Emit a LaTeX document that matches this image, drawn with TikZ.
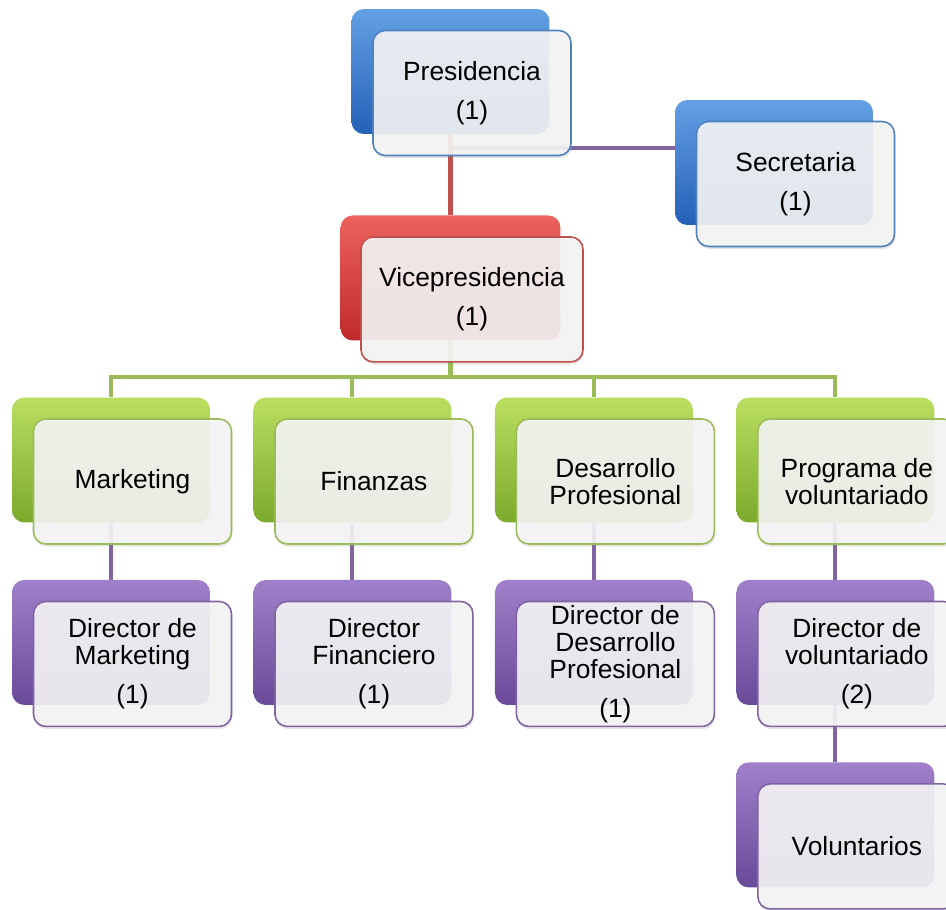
\documentclass[tikz,border=0pt]{standalone}
\usepackage{fontspec}
\setmainfont{Liberation Sans}
\usetikzlibrary{shadows}
\definecolor{bluehi}{RGB}{100,160,228}
\definecolor{bluelo}{RGB}{36,96,182}
\definecolor{blueline}{RGB}{79,129,189}
\definecolor{redhi}{RGB}{236,98,94}
\definecolor{redlo}{RGB}{192,42,42}
\definecolor{redline}{RGB}{192,80,77}
\definecolor{greenhi}{RGB}{186,222,96}
\definecolor{greenlo}{RGB}{124,170,44}
\definecolor{greenline}{RGB}{155,187,89}
\definecolor{purplehi}{RGB}{160,128,202}
\definecolor{purplelo}{RGB}{104,74,152}
\definecolor{purpleline}{RGB}{128,100,162}
\tikzstyle{box} = [shape=rectangle,rounded corners=7pt,minimum width=3.96cm,minimum height=2.5cm,inner sep=0pt]
\tikzstyle{back} = [box,draw=none]
\tikzstyle{front} = [box,draw,line width=.9pt,fill=white!96!black,fill opacity=.9,text opacity=1,align=center,font=\fontsize{15}{15.3}\selectfont,drop shadow={opacity=.2,shadow xshift=.5pt,shadow yshift=-1.5pt},below right of=#1,node distance=.608cm]
\tikzstyle{blueback} = [back,top color=bluehi,bottom color=bluelo]
\tikzstyle{redback} = [back,top color=redhi,bottom color=redlo]
\tikzstyle{greenback} = [back,top color=greenhi,bottom color=greenlo]
\tikzstyle{purpleback} = [back,top color=purplehi,bottom color=purplelo]
\tikzstyle{link} = [line width=2.3pt]
\pgfdeclarelayer{background}
\pgfsetlayers{background,main}

\begin{document}
\begin{tikzpicture}[x=0.02cm,y=-0.02cm]
\clip (0,0) rectangle (946,909);
\node[blueback] (pb) at (450.5,71.5) {};
\node[blueback] (sb) at (774,162.5) {};
\node[redback,minimum width=4.4cm,below of=pb,node distance=4.13cm] (vb) {};
\node[greenback] (gb1) at (111,460) {};
\node[greenback,right of=gb1,node distance=4.83cm] (gb2) {};
\node[greenback,right of=gb2,node distance=4.83cm] (gb3) {};
\node[greenback,right of=gb3,node distance=4.83cm] (gb4) {};
\node[purpleback,below of=gb1,node distance=3.65cm] (db1) {};
\node[purpleback,below of=gb2,node distance=3.65cm] (db2) {};
\node[purpleback,below of=gb3,node distance=3.65cm] (db3) {};
\node[purpleback,below of=gb4,node distance=3.65cm] (db4) {};
\node[purpleback,below of=db4,node distance=3.65cm] (vob) {};

\node[front=pb,draw=blueline] (pres) {Presidencia\\[6.8pt](1)};
\node[front=sb,draw=blueline] (secr) {Secretaria\\[6.8pt](1)};
\node[front=vb,draw=redline,minimum width=4.44cm] (vice) {Vicepresidencia\\[6.8pt](1)};
\node[front=gb1,draw=greenline] (mark) {Marketing};
\node[front=gb2,draw=greenline] (fin) {Finanzas};
\node[front=gb3,draw=greenline] (desa) {Desarrollo\\Profesional};
\node[front=gb4,draw=greenline] (prog) {Programa de\\voluntariado};
\node[front=db1,draw=purpleline] (dmark) {Director de\\Marketing\\[6.8pt](1)};
\node[front=db2,draw=purpleline] (dfin) {Director\\Financiero\\[6.8pt](1)};
\node[front=db3,draw=purpleline] (ddesa) {Director de\\Desarrollo\\Profesional\\[6.8pt](1)};
\node[front=db4,draw=purpleline] (dvol) {Director de\\voluntariado\\[6.8pt](2)};
\node[front=vob,draw=purpleline] (vol) {Voluntarios};

\begin{pgfonlayer}{background}
\coordinate (sj) at ([yshift=8.2pt]sb.west);
\coordinate (bus) at (0,377);
\draw[link,color=purpleline] (pb |- sj) -- (sj);
\draw[link,color=redline] (pb) -- (vb);
\foreach \g in {gb1,gb2,gb3,gb4}
  \draw[link,color=greenline] (vb) |- (bus -| \g) -- (\g);
\foreach \g/\d in {gb1/db1,gb2/db2,gb3/db3,gb4/db4,db4/vob}
  \draw[link,color=purpleline] (\g) -- (\d);
\end{pgfonlayer}
\end{tikzpicture}
\end{document}
